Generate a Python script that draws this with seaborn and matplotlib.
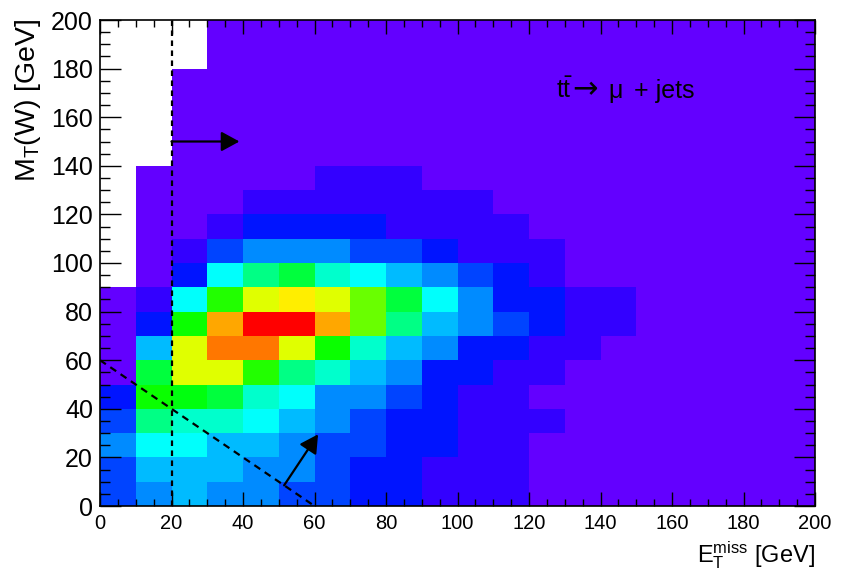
import colorsys
import numpy as np
import pandas as pd
import matplotlib
matplotlib.use("Agg")
import matplotlib.pyplot as plt
from matplotlib.colors import ListedColormap
from matplotlib.ticker import MultipleLocator
import seaborn as sns

# ---------------- data ----------------
# bin edges in GeV
met_edges = [0, 10, 20, 30, 40, 50, 60, 70, 80, 90, 100,
             110, 120, 130, 140, 150, 160, 170, 180, 190, 200]
mt_edges = [0, 10, 20, 30, 40, 50, 60, 70, 80, 90, 100,
            110, 120, 130, 140, 150, 160, 170, 180, 190, 200]

# bin content expressed as colour level of the ROOT palette (0..49)
# one list per M_T(W) row (bottom to top); columns are E_T^miss bins 0-10 ... 190-200
N = None
mt_000_010 = [9, 12, 14, 12, 12, 9, 9, 7, 7, 4, 4, 4, 2, 2, 2, 2, 2, 2, 2, 2]
mt_010_020 = [9, 14, 14, 14, 12, 12, 9, 7, 7, 4, 4, 4, 2, 2, 2, 2, 2, 2, 2, 2]
mt_020_030 = [12, 17, 17, 14, 14, 12, 9, 9, 7, 7, 4, 4, 2, 2, 2, 2, 2, 2, 2, 2]
mt_030_040 = [9, 22, 19, 19, 17, 14, 12, 9, 7, 7, 4, 4, 4, 2, 2, 2, 2, 2, 2, 2]
mt_040_050 = [7, 28, 27, 25, 19, 17, 12, 12, 9, 7, 4, 4, 2, 2, 2, 2, 2, 2, 2, 2]
mt_050_060 = [2, 25, 37, 37, 29, 22, 19, 14, 12, 7, 7, 4, 4, 2, 2, 2, 2, 2, 2, 2]
mt_060_070 = [2, 14, 37, 44, 44, 37, 28, 19, 14, 12, 7, 7, 4, 4, 2, 2, 2, 2, 2, 2]
mt_070_080 = [2, 7, 28, 42, 49, 49, 42, 32, 22, 14, 12, 9, 7, 4, 4, 2, 2, 2, 2, 2]
mt_080_090 = [2, 4, 17, 29, 37, 39, 37, 32, 25, 17, 12, 7, 7, 4, 4, 2, 2, 2, 2, 2]
mt_090_100 = [N, 2, 7, 17, 22, 25, 19, 17, 14, 12, 9, 7, 4, 2, 2, 2, 2, 2, 2, 2]
mt_100_110 = [N, 2, 4, 9, 12, 12, 12, 9, 9, 7, 4, 4, 4, 2, 2, 2, 2, 2, 2, 2]
mt_110_120 = [N, 2, 2, 4, 7, 7, 7, 7, 4, 4, 4, 4, 2, 2, 2, 2, 2, 2, 2, 2]
mt_120_130 = [N, 2, 2, 2, 4, 4, 4, 4, 4, 4, 4, 2, 2, 2, 2, 2, 2, 2, 2, 2]
mt_130_140 = [N, 2, 2, 2, 2, 2, 4, 4, 4, 2, 2, 2, 2, 2, 2, 2, 2, 2, 2, 2]
mt_140_150 = [N, N, 2, 2, 2, 2, 2, 2, 2, 2, 2, 2, 2, 2, 2, 2, 2, 2, 2, 2]
mt_150_160 = [N, N, 2, 2, 2, 2, 2, 2, 2, 2, 2, 2, 2, 2, 2, 2, 2, 2, 2, 2]
mt_160_170 = [N, N, 2, 2, 2, 2, 2, 2, 2, 2, 2, 2, 2, 2, 2, 2, 2, 2, 2, 2]
mt_170_180 = [N, N, 2, 2, 2, 2, 2, 2, 2, 2, 2, 2, 2, 2, 2, 2, 2, 2, 2, 2]
mt_180_190 = [N, N, N, 2, 2, 2, 2, 2, 2, 2, 2, 2, 2, 2, 2, 2, 2, 2, 2, 2]
mt_190_200 = [N, N, N, 2, 2, 2, 2, 2, 2, 2, 2, 2, 2, 2, 2, 2, 2, 2, 2, 2]

rows = [mt_000_010, mt_010_020, mt_020_030, mt_030_040, mt_040_050,
        mt_050_060, mt_060_070, mt_070_080, mt_080_090, mt_090_100,
        mt_100_110, mt_110_120, mt_120_130, mt_130_140, mt_140_150,
        mt_150_160, mt_160_170, mt_170_180, mt_180_190, mt_190_200]

# cut lines / arrows (GeV)
cut_met_x = [20, 20]
cut_met_y = [0, 200]
cut_tri_x = [0, 60]
cut_tri_y = [60, 0]
arrow1_tail, arrow1_tip = (20, 150), (39, 150)
arrow2_tail, arrow2_tip = (51.5, 8.5), (61, 29.5)

# process label, split in pieces (position x in GeV, baseline y in GeV)
label_parts = [r"$t\bar{t}$", "\u2192", "\u03bc", "+ jets"]
label_x = [127.5, 132.2, 142.1, 149.4]
label_sizes = [18, 22, 18, 18]
label_y = 168.0

# ---------------- table for seaborn ----------------
recs = []
for i, row in enumerate(rows):
    yc = 0.5 * (mt_edges[i] + mt_edges[i + 1])
    for j, v in enumerate(row):
        if v is None:
            continue
        xc = 0.5 * (met_edges[j] + met_edges[j + 1])
        recs.append((xc, yc, v))
df = pd.DataFrame(recs, columns=["met", "mt", "level"])

# ROOT "pretty palette" (violet -> red, 50 colours)
pal = [colorsys.hls_to_rgb((280 - (k + 1) * 5.6) / 360.0, 0.5, 1.0) for k in range(50)]
cmap = ListedColormap(pal)

# ---------------- style ----------------
plt.rcParams["font.family"] = ["Liberation Sans", "DejaVu Sans"]
plt.rcParams["mathtext.fontset"] = "custom"
plt.rcParams["mathtext.rm"] = "Liberation Sans"
plt.rcParams["mathtext.it"] = "Liberation Sans:italic"
plt.rcParams["mathtext.bf"] = "Liberation Sans:bold"
plt.rcParams["mathtext.default"] = "regular"

fig = plt.figure(figsize=(8.43, 5.77), dpi=100)
ax = fig.add_axes([100 / 843, 1 - 506 / 577, 715 / 843, 486 / 577])

sns.histplot(data=df, x="met", y="mt", weights="level",
             bins=(met_edges, mt_edges), cmap=cmap,
             vmin=-0.5, vmax=49.5, ax=ax)

ax.set_xlim(0, 200)
ax.set_ylim(0, 200)

ax.plot(cut_met_x, cut_met_y, color="black", lw=1.6, ls=(0, (2.5, 2.0)))
ax.plot(cut_tri_x, cut_tri_y, color="black", lw=1.6, ls=(0, (3.2, 2.4)))

aprops = dict(arrowstyle="-|>,head_length=0.55,head_width=0.3",
              mutation_scale=20, lw=1.6, color="black",
              shrinkA=0, shrinkB=0)
ax.annotate("", xy=arrow1_tip, xytext=arrow1_tail, arrowprops=aprops)
ax.annotate("", xy=arrow2_tip, xytext=arrow2_tail, arrowprops=aprops)

for txt, xx, fs in zip(label_parts, label_x, label_sizes):
    fam = ["DejaVu Sans"] if txt == "\u2192" else ["Liberation Sans", "DejaVu Sans"]
    ax.text(xx, label_y, txt, fontsize=fs, family=fam,
            ha="left", va="baseline", color="black")

# axes / ticks
for s in ax.spines.values():
    s.set_color("black")
    s.set_linewidth(1.2)
ax.xaxis.set_major_locator(MultipleLocator(20))
ax.xaxis.set_minor_locator(MultipleLocator(5))
ax.yaxis.set_major_locator(MultipleLocator(20))
ax.yaxis.set_minor_locator(MultipleLocator(5))
ax.tick_params(which="both", direction="in", top=True, right=True,
               width=1.0, color="black", labelcolor="black")
ax.tick_params(axis="x", which="major", length=10, pad=6, labelsize=14.5)
ax.tick_params(axis="x", which="minor", length=5)
ax.tick_params(axis="y", which="major", length=15, pad=5, labelsize=18)
ax.tick_params(axis="y", which="minor", length=7.5)
ax.grid(False)

ax.set_xlabel(r"$E_{T}^{miss}$ [GeV]", fontsize=17, loc="right")
ax.xaxis.set_label_coords(1.0, -0.068)
ax.set_ylabel(r"$M_{T}$(W) [GeV]", fontsize=20.5, loc="top")
ax.yaxis.set_label_coords(-0.08, 1.004)

fig.savefig("out.png", dpi=100)
